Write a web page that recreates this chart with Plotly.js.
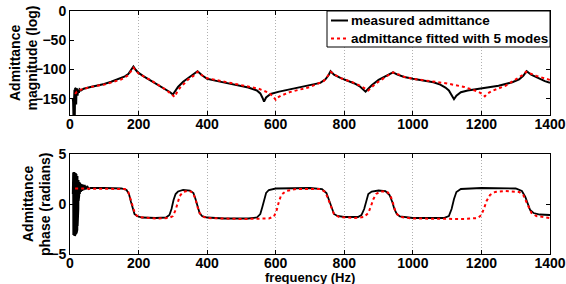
<!DOCTYPE html>
<html><head><meta charset="utf-8">
<script src="https://cdn.plot.ly/plotly-3.0.1.min.js"></script>
<style>html,body{margin:0;padding:0;background:#fff}#c{width:566px;height:284px}</style>
</head><body><div id="c"></div>
<script>
// Magnitude (log) - measured
const magMeasF = [8,9,10,11,12,13,14,15,16,17,18,19,20,21,22,24,26,28,32,40,60,87,100,120,146,160,170,178,185,192,200,215,230,245,260,275,285,292,300,306,315,330,345,360,372,385,400,430,470,520,545,555,561,566,572,585,610,650,700,730,745,754,760,770,790,810,830,845,855,862,870,880,900,920,935,942,955,975,1000,1030,1060,1080,1095,1105,1112,1120,1127,1140,1160,1200,1250,1290,1310,1322,1332,1345,1365,1385,1400];
const magMeasV = [-150,-155,-178,-140,-178,-135,-178,-132,-175,-133,-160,-133,-150,-134,-145,-135,-140,-134,-136,-133,-130,-127,-125,-121,-115,-112,-108,-102,-95,-101,-106,-112,-117,-122,-127,-132,-136,-139,-143,-137,-130,-121,-115,-109,-103,-110,-116,-120,-125,-131,-136,-141,-148,-155,-148,-142,-138,-133,-128,-123,-117,-110,-103,-109,-115,-119,-124,-129,-134,-138,-133,-127,-118,-112,-107,-105,-109,-113,-116,-119,-122,-126,-131,-136,-142,-151,-145,-139,-136,-132,-128,-122,-117,-111,-103,-109,-115,-120,-123];
// Magnitude - fitted with 5 modes
const magFitF = [15,20,30,60,100,150,170,178,185,192,200,240,280,297,305,312,320,345,360,372,385,400,450,500,550,580,592,600,606,615,640,700,740,752,760,775,790,820,850,870,880,890,920,943,960,970,1000,1100,1150,1190,1203,1210,1218,1230,1270,1310,1322,1330,1345,1360,1400];
const magFitV = [-142,-138,-135,-130,-126,-117,-110,-104,-97,-102,-107,-120,-135,-143,-147,-139,-132,-117,-111,-104,-110,-115,-121,-126,-133,-140,-146,-152,-148,-145,-139,-130,-120,-111,-104,-110,-115,-121,-129,-136,-131,-125,-113,-105,-109,-112,-116,-124,-130,-138,-142,-146,-141,-137,-128,-114,-109,-104,-108,-111,-118];
// Phase (radians) - measured
const phMeasF = [8,8.5,9,9.5,10,10.5,11,11.5,12,12.5,13,13.5,14,14.5,15,15.5,16,16.5,17,17.5,18,18.5,19,19.5,20,20.5,21,21.5,22,22.5,23,23.5,24,24.5,25,25.5,26,27,28,29,30,32,34,36,38,40,43,46,50,55,60,100,150,165,172,178,183,188,195,210,250,280,290,296,302,308,315,330,350,360,366,372,378,385,400,450,520,545,555,561,566,572,580,600,700,735,748,755,762,770,780,800,840,850,858,864,870,880,900,920,932,940,946,953,962,1000,1090,1105,1113,1120,1127,1140,1200,1300,1318,1328,1335,1342,1352,1370,1400];
const phMeasV = [1,-3,3.1,-3.1,3.2,-3.1,3.2,-3.2,3.1,-3.2,3.2,-3.1,3.1,-3.2,3.1,-3.1,3.0,-3.1,3.1,-3.0,3.0,-3.0,3.0,-2.9,2.9,-2.8,2.9,-2.6,2.8,-2.2,2.7,-1.5,2.5,-0.5,2.4,0.3,2.3,0.8,2.2,1.0,2.1,1.2,2.0,1.3,1.95,1.4,1.9,1.45,1.8,1.5,1.6,1.6,1.55,1.4,1.0,0.2,-0.5,-1.0,-1.2,-1.35,-1.4,-1.35,-1.1,-0.5,0.4,1.0,1.25,1.4,1.35,1.1,0.5,-0.3,-0.9,-1.2,-1.35,-1.45,-1.45,-1.35,-1.0,-0.3,0.5,1.1,1.4,1.55,1.6,1.5,1.1,0.4,-0.4,-1.0,-1.2,-1.3,-1.3,-1.1,-0.5,0.4,1.0,1.25,1.35,1.3,0.9,0.2,-0.5,-1.0,-1.25,-1.4,-1.4,-1.2,-0.5,0.5,1.2,1.5,1.6,1.55,1.3,0.7,0,-0.6,-0.9,-1.05,-1.1];
// Phase - fitted with 5 modes
const phFitF = [15,100,160,170,178,184,190,200,250,290,300,308,314,320,330,345,358,366,372,378,386,400,500,580,595,603,609,616,630,660,730,745,754,762,770,785,830,858,870,878,885,893,905,925,935,942,948,955,965,1000,1150,1190,1200,1208,1215,1225,1240,1270,1310,1322,1330,1337,1346,1360,1400];
const phFitV = [1.55,1.55,1.5,1.2,0.4,-0.4,-1.0,-1.3,-1.45,-1.4,-1.2,-0.6,0.2,0.8,1.2,1.35,1.15,0.5,-0.3,-0.9,-1.25,-1.4,-1.5,-1.45,-1.25,-0.6,0.2,0.9,1.3,1.5,1.5,1.2,0.4,-0.4,-1.0,-1.3,-1.4,-1.3,-0.9,-0.2,0.5,1.0,1.25,1.25,0.8,0.1,-0.6,-1.05,-1.3,-1.45,-1.5,-1.4,-1.1,-0.4,0.3,0.9,1.2,1.3,1.2,0.9,0.3,-0.4,-0.9,-1.2,-1.4];

const xTicks = [0,200,400,600,800,1000,1200,1400];
const magTicks = [0,-50,-100,-150];
const phTicks = [5,0,-5];
const names = ['measured admittance','admittance fitted with 5 modes'];

const FONT = 'Liberation Sans, Arial, sans-serif';
const blackLine = {color:'#000', width:2};
const redLine = {color:'#ff0000', width:2, dash:'3px,3px'};

const traces = [
  {x:magMeasF, y:magMeasV, type:'scatter', mode:'lines', line:blackLine, name:names[0], xaxis:'x', yaxis:'y'},
  {x:magFitF, y:magFitV, type:'scatter', mode:'lines', line:redLine, name:names[1], xaxis:'x', yaxis:'y'},
  {x:phMeasF, y:phMeasV, type:'scatter', mode:'lines', line:{color:'#000', width:1.8}, name:names[0], xaxis:'x2', yaxis:'y2'},
  {x:phFitF, y:phFitV, type:'scatter', mode:'lines', line:redLine, name:names[1], xaxis:'x2', yaxis:'y2'}
];

const tickFont = {family:FONT, size:14, color:'#000', weight:'bold'};
const xax = (anchor) => ({
  anchor:anchor, domain:[0,1], range:[0,1400], tickvals:xTicks, ticktext:xTicks.map(String),
  ticks:'inside', ticklen:4, tickcolor:'#000', showline:true, linecolor:'#000', linewidth:1, mirror:'ticks',
  showgrid:true, gridcolor:'#b0b0b0', griddash:'1px,2px', gridwidth:1, zeroline:false, tickfont:tickFont,
  ticklabelstandoff:-4
});
const yax = (anchor, dom, rng, tv) => ({
  anchor:anchor, domain:dom, range:rng, tickvals:tv, ticktext:tv.map(v => v<0 ? '\u2212'+Math.abs(v) : String(v)),
  ticks:'inside', ticklen:4, tickcolor:'#000', showline:true, linecolor:'#000', linewidth:1, mirror:'ticks',
  showgrid:false, zeroline:false, tickfont:tickFont
});

// paper-coordinate helpers (pixel positions relative to the plot area)
const px = p => (p-70)/480, py = p => (254-p)/243;
const titleFont = {family:FONT, size:14, color:'#000', weight:'bold'};
const legFont = {family:FONT, size:13.5, color:'#000', weight:'bold'};
const ytitle = (text, x, y) => ({text:text, xref:'paper', yref:'paper', x:px(x), y:py(y), textangle:-90, showarrow:false, font:titleFont, xanchor:'center', yanchor:'middle'});
const layout = {
  width:566, height:284,
  margin:{l:70, r:16, t:11, b:30, pad:0},
  paper_bgcolor:'#fff', plot_bgcolor:'#fff',
  xaxis: xax('y'),
  yaxis: yax('x', [0.572,1], [-178,0], magTicks),
  xaxis2: xax('y2'),
  yaxis2: yax('x2', [0,0.4115], [-5,5], phTicks),
  showlegend:false,
  shapes:[
    {type:'rect', xref:'paper', yref:'paper', x0:px(327), x1:px(550), y0:py(47), y1:py(11), fillcolor:'#fff', line:{color:'#000', width:1}, layer:'above'},
    {type:'line', xref:'paper', yref:'paper', x0:px(331), x1:px(348), y0:py(20.5), y1:py(20.5), line:{color:'#000', width:2}, layer:'above'},
    {type:'line', xref:'paper', yref:'paper', x0:px(331), x1:px(348), y0:py(38.5), y1:py(38.5), line:{color:'#ff0000', width:2, dash:'3px,3px'}, layer:'above'}
  ],
  annotations:[
    {text:names[0], xref:'paper', yref:'paper', x:px(349), y:py(20.5), xanchor:'left', yanchor:'middle', showarrow:false, font:legFont},
    {text:names[1], xref:'paper', yref:'paper', x:px(349), y:py(38.5), xanchor:'left', yanchor:'middle', showarrow:false, font:legFont},
    ytitle('Admittance', 15, 63),
    ytitle('magnitude (log)', 31.5, 58),
    ytitle('Admittance', 28, 204),
    ytitle('phase (radians)', 45, 205),
    {text:'frequency (Hz)', xref:'paper', yref:'paper', x:0.5, y:py(277), showarrow:false, font:{family:FONT, size:13, color:'#000', weight:'bold'}, xanchor:'center', yanchor:'middle'}
  ]
};
Plotly.newPlot('c', traces, layout, {staticPlot:true, displayModeBar:false});
</script></body></html>
